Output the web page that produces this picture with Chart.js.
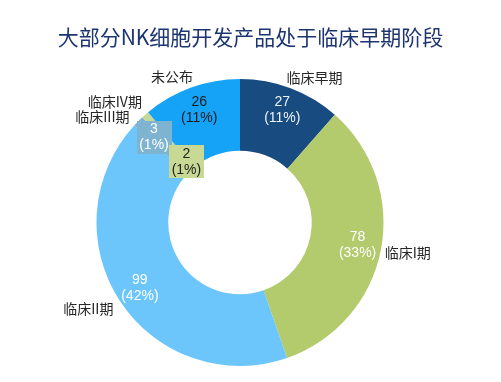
<!DOCTYPE html>
<html>
<head>
<meta charset="utf-8">
<script src="https://cdn.jsdelivr.net/npm/chart.js@4.4.1/dist/chart.umd.min.js"></script>
<style>
  html, body { margin: 0; padding: 0; background: #ffffff; }
  #wrap { width: 501px; height: 382px; position: relative; }
</style>
</head>
<body>
<div id="wrap"><canvas id="c" width="501" height="382"></canvas></div>
<script>
const title = '大部分NK细胞开发产品处于临床早期阶段';
const categories = ['临床早期', '临床I期', '临床II期', '临床III期', '临床IV期', '未公布'];
const counts = [27, 78, 99, 3, 2, 26];
const sliceColors = ['#184b80', '#b3ca6d', '#6cc6fc', '#7fb3d2', '#c8d995', '#14a3f6'];
const valueTextColors = ['#eef3f8', '#ffffff', '#ffffff', '#ffffff', '#222222', '#1a1a1a'];

const total = counts.reduce((a, b) => a + b, 0);
const percents = counts.map(v => Math.round(v / total * 100));

const CJK = '"Microsoft YaHei", "Noto Sans CJK SC", "Liberation Sans", sans-serif';
const NUM = '"Liberation Sans", Arial, "Noto Sans CJK SC", sans-serif';

const labelPlugin = {
  id: 'pieLabels',
  afterDraw(chart, args, opts) {
    const ctx = chart.ctx;
    // title
    ctx.save();
    ctx.fillStyle = '#1c3571';
    ctx.font = '21px ' + CJK;
    ctx.textAlign = 'center';
    ctx.textBaseline = 'middle';
    ctx.fillText(title, chart.width / 2, 37);
    ctx.restore();

    const meta = chart.getDatasetMeta(0);
    meta.data.forEach((arc, i) => {
      const p = arc.getProps(['x', 'y', 'startAngle', 'endAngle', 'innerRadius', 'outerRadius'], true);
      const mid = (p.startAngle + p.endAngle) / 2;
      const cos = Math.cos(mid), sin = Math.sin(mid);
      // value label
      const frac = opts.valueRadius[i];
      const r = p.innerRadius + frac * (p.outerRadius - p.innerRadius);
      const cx = p.x + r * cos, cy = p.y + r * sin;
      const l1 = String(counts[i]);
      const l2 = '(' + percents[i] + '%)';
      ctx.save();
      ctx.font = '14px ' + NUM;
      ctx.textAlign = 'center';
      ctx.textBaseline = 'middle';
      if (opts.boxed[i]) {
        const w = Math.max(ctx.measureText(l1).width, ctx.measureText(l2).width) + 5;
        const h = 33;
        ctx.fillStyle = sliceColors[i];
        ctx.fillRect(Math.round(cx - w / 2), Math.round(cy - h / 2), Math.round(w), h);
      }
      ctx.fillStyle = valueTextColors[i];
      ctx.fillText(l1, cx, cy - 8);
      ctx.fillText(l2, cx, cy + 8);
      ctx.restore();

      // category label
      const ro = p.outerRadius + 8;
      const ax = p.x + ro * cos + opts.nudge[i][0];
      const ay = p.y + ro * sin + opts.nudge[i][1];
      ctx.save();
      ctx.font = '14px ' + CJK;
      ctx.fillStyle = '#262626';
      ctx.textAlign = cos >= 0 ? 'left' : 'right';
      ctx.textBaseline = 'middle';
      ctx.fillText(categories[i], ax, ay);
      ctx.restore();
    });
  }
};

new Chart(document.getElementById('c'), {
  type: 'doughnut',
  data: {
    labels: categories,
    datasets: [{
      data: counts,
      backgroundColor: sliceColors,
      borderWidth: 0,
      hoverOffset: 0,
      offset: 0
    }]
  },
  options: {
    responsive: false,
    devicePixelRatio: 1,
    animation: false,
    events: [],
    cutout: '50%',
    layout: { padding: { left: 96.5, right: 117.5, top: 79, bottom: 16 } },
    plugins: {
      legend: { display: false },
      tooltip: { enabled: false },
      title: { display: false },
      pieLabels: {
        valueRadius: [0.67, 0.67, 0.67, 0.69, 0.13, 0.67],
        boxed: [false, false, false, true, true, false],
        nudge: [[-7, -3], [-4, 1], [0, 3], [-3, 1], [2, -7], [4.5, -3]]
      }
    }
  },
  plugins: [labelPlugin]
});
</script>
</body>
</html>
